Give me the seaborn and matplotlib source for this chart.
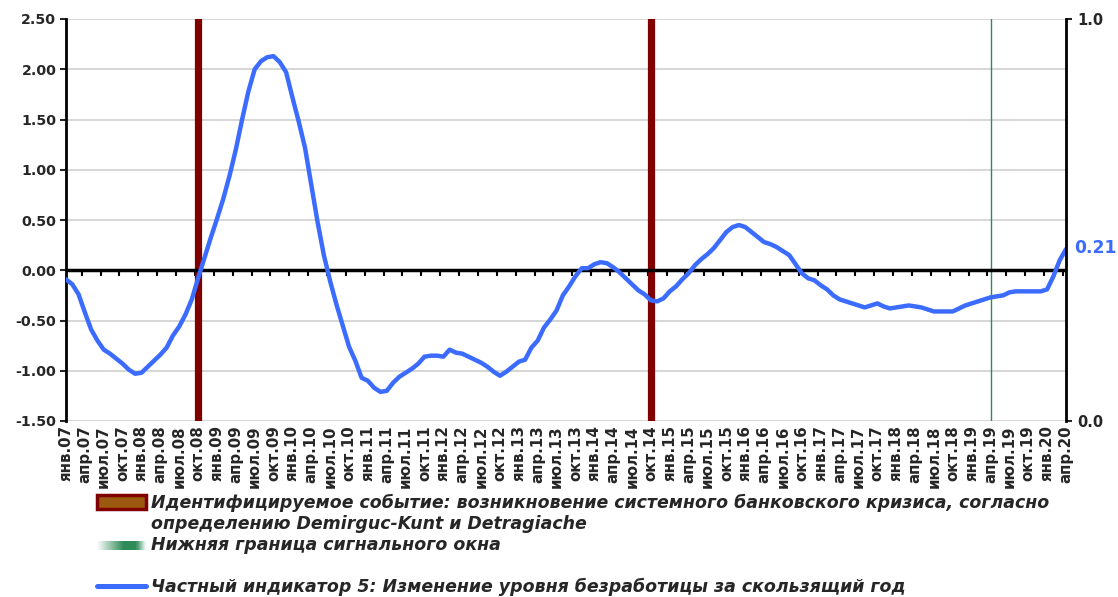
import numpy as np
import pandas as pd
import matplotlib.pyplot as plt
import seaborn as sns
from matplotlib.lines import Line2D
from matplotlib.patches import Patch, Rectangle
from matplotlib.legend_handler import HandlerBase
from matplotlib.colors import to_rgb

# Месяцы: янв.2007 - апр.2020
month_names = ["янв.", "фев.", "мар.", "апр.", "май.", "июн.",
               "июл.", "авг.", "сен.", "окт.", "ноя.", "дек."]
years = list(range(7, 21))

# Частный индикатор 5 (изменение уровня безработицы за скользящий год), п.п.
unemployment_change = [
    -0.09, -0.14, -0.24, -0.42, -0.59, -0.70, -0.79, -0.83, -0.88, -0.93, -0.99, -1.03,
    -1.02, -0.96, -0.90, -0.84, -0.77, -0.65, -0.56, -0.44, -0.29, -0.08, 0.12, 0.32,
    0.51, 0.71, 0.94, 1.20, 1.50, 1.78, 2.00, 2.08, 2.12, 2.13, 2.07, 1.97,
    1.72, 1.48, 1.22, 0.85, 0.48, 0.15, -0.11, -0.34, -0.55, -0.76, -0.90, -1.07,
    -1.10, -1.17, -1.21, -1.20, -1.12, -1.06, -1.02, -0.98, -0.93, -0.86, -0.85, -0.85,
    -0.86, -0.79, -0.82, -0.83, -0.86, -0.89, -0.92, -0.96, -1.01, -1.05, -1.01, -0.96,
    -0.91, -0.89, -0.77, -0.70, -0.57, -0.49, -0.40, -0.25, -0.16, -0.06, 0.02, 0.02,
    0.06, 0.08, 0.07, 0.03, -0.02, -0.08, -0.14, -0.20, -0.24, -0.30, -0.31, -0.28,
    -0.21, -0.16, -0.09, -0.03, 0.05, 0.11, 0.16, 0.22, 0.30, 0.38, 0.43, 0.45,
    0.43, 0.38, 0.33, 0.28, 0.26, 0.23, 0.19, 0.15, 0.06, -0.03, -0.08, -0.10,
    -0.15, -0.19, -0.25, -0.29, -0.31, -0.33, -0.35, -0.37, -0.35, -0.33, -0.36, -0.38,
    -0.37, -0.36, -0.35, -0.36, -0.37, -0.39, -0.41, -0.41, -0.41, -0.41, -0.38, -0.35,
    -0.33, -0.31, -0.29, -0.27, -0.26, -0.25, -0.22, -0.21, -0.21, -0.21, -0.21, -0.21,
    -0.19, -0.06, 0.10, 0.21,
]

crisis_months = ["окт.08", "окт.14"]
signal_window_start = "апр.19"

months = [m + "%02d" % y for y in years for m in month_names][:len(unemployment_change)]
df = pd.DataFrame({"month": months, "value": unemployment_change})
df["pos"] = np.arange(len(df))

sns.set_style("white")
plt.rcParams["font.family"] = ["DejaVu Sans"]
plt.rcParams["font.weight"] = "bold"

blue = "#3b6cff"
dark_red = "#800000"
green = "#2e8b57"


class GradientHandler(HandlerBase):
    # зелёная полоска в легенде с плавным затуханием по краям
    def create_artists(self, legend, orig_handle, xdescent, ydescent,
                       width, height, fontsize, trans):
        n = 48
        g = np.array(to_rgb(green))
        arts = []
        for i in range(n):
            t = (i + 0.5) / n
            a = min(1.0, t * 1.8) * min(1.0, (1 - t) * 5)
            col = 1 - a * (1 - g)
            r = Rectangle((-xdescent + i * width / n, -ydescent + height * 0.05),
                          width / n * 2, height * 0.65, facecolor=col,
                          edgecolor="none", transform=trans)
            arts.append(r)
        return arts


fig = plt.figure(figsize=(11.18, 5.97), dpi=100)
ax = fig.add_axes([66 / 1118, 1 - 421 / 597, 1000 / 1118, 402 / 597])

# Сетка и нулевая линия
ax.set_ylim(-1.5, 2.5)
ax.set_xlim(0, len(df) - 1)
ax.set_yticks(np.arange(-1.5, 2.51, 0.5))
ax.yaxis.set_major_formatter(plt.FormatStrFormatter("%.2f"))
ax.grid(axis="y", color="#d0d0d0", linewidth=1.2)
ax.set_axisbelow(True)

for m in crisis_months:
    ax.axvline(months.index(m), color=dark_red, linewidth=5.2, zorder=2)
ax.axvline(months.index(signal_window_start), color=green, linewidth=1, zorder=2)

ax.axhline(0, color="black", linewidth=2.5, zorder=3)

sns.lineplot(data=df, x="pos", y="value", ax=ax, color=blue, linewidth=3.2, zorder=4)
ax.set_xlabel("")
ax.set_ylabel("")

# Подписи по оси X (раз в квартал)
tick_pos = df["pos"][::3]
ax.set_xticks(tick_pos)
ax.set_xticklabels(df["month"][::3], rotation=90, fontsize=10.8, fontweight="bold")
ax.tick_params(axis="x", length=0, pad=3)
ax.tick_params(axis="y", labelsize=10.2, length=4, width=1.5, direction="out", pad=3)
for lbl in ax.get_yticklabels():
    lbl.set_fontweight("bold")

# Засечки на нулевой линии
zero_axis = ax.secondary_xaxis(1.5 / 4.0)
zero_axis.set_xticks(np.arange(3, len(df), 3) - 0.5)
zero_axis.set_xticklabels([])
zero_axis.tick_params(axis="x", direction="out", length=4, width=1.5, color="black")
zero_axis.spines["bottom"].set_visible(False)

for s in ["top", "bottom"]:
    ax.spines[s].set_visible(False)
ax.spines["left"].set_color("black")
ax.spines["left"].set_linewidth(2)

# Правая ось
ax2 = ax.twinx()
ax2.set_ylim(0, 1)
ax2.set_yticks([0, 1])
ax2.set_yticklabels(["0.0", "1.0"], fontsize=10.5, fontweight="bold")
ax2.tick_params(axis="y", length=4, width=1.5, pad=4)
for s in ["top", "bottom", "left"]:
    ax2.spines[s].set_visible(False)
ax2.spines["right"].set_color("black")
ax2.spines["right"].set_linewidth(2)

last = df.iloc[-1]
ax.annotate("%.2f" % last["value"], xy=(last["pos"], last["value"]),
            xytext=(6, 1), textcoords="offset points", va="center", ha="left",
            color=blue, fontsize=12.3, fontweight="bold", annotation_clip=False)

# Легенда
green_handle = Patch(facecolor=green)
handles = [
    Patch(facecolor="#9c5a10", edgecolor=dark_red, linewidth=2.5),
    Line2D([], [], color="none"),
    green_handle,
    Line2D([], [], color="none"),
    Line2D([], [], color=blue, linewidth=3.6),
]
labels = [
    "Идентифицируемое событие: возникновение системного банковского кризиса, согласно",
    "определению Demirguc-Kunt и Detragiache",
    "Нижняя граница сигнального окна",
    "",
    "Частный индикатор 5: Изменение уровня безработицы за скользящий год",
]
fig.legend(handles, labels, loc="upper left", bbox_to_anchor=(97 / 1118, 1 - 494 / 597),
           frameon=False, labelspacing=0.17, handlelength=2.8, handleheight=0.8,
           handletextpad=0.3, borderpad=0, borderaxespad=0,
           handler_map={green_handle: GradientHandler()},
           prop={"family": "DejaVu Sans", "weight": "bold",
                 "style": "oblique", "size": 12.5})

fig.savefig("out.png", dpi=100)
